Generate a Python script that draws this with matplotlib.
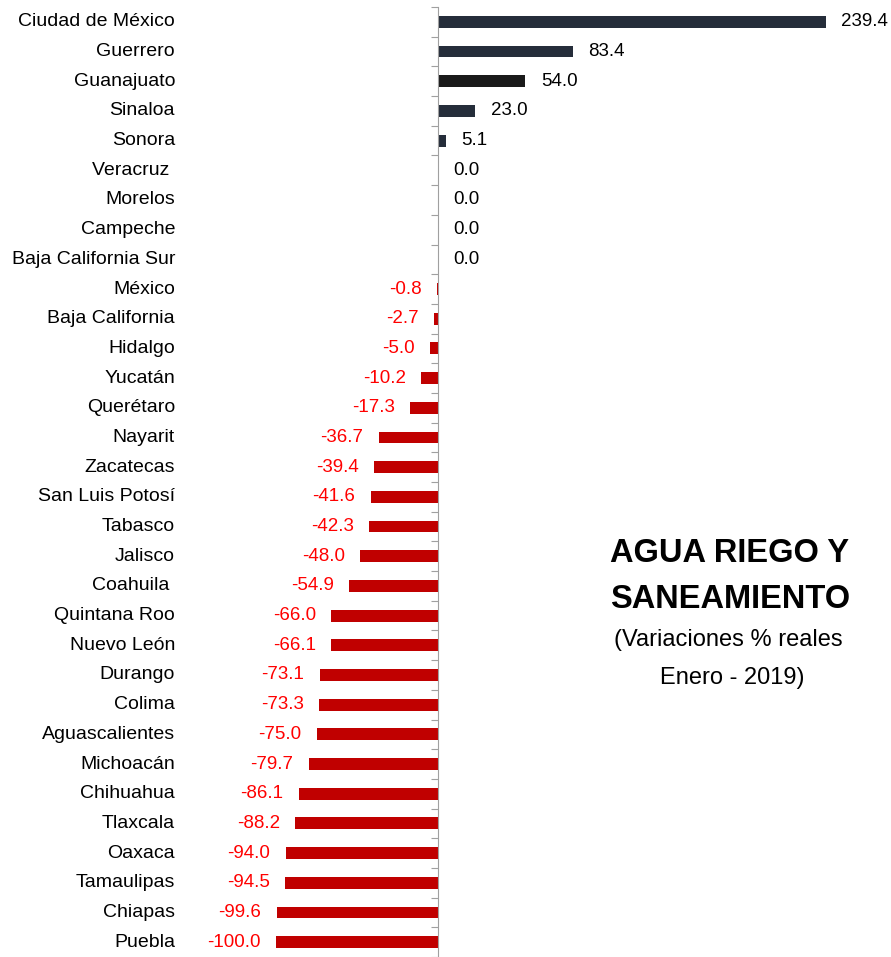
import matplotlib
matplotlib.use("Agg")
import matplotlib.pyplot as plt
import numpy as np

plt.rcParams['font.family'] = ['Liberation Sans', 'DejaVu Sans']

estados = ["Ciudad de México", "Guerrero", "Guanajuato", "Sinaloa", "Sonora",
           "Veracruz ", "Morelos", "Campeche", "Baja California Sur", "México",
           "Baja California", "Hidalgo", "Yucatán", "Querétaro", "Nayarit",
           "Zacatecas", "San Luis Potosí", "Tabasco", "Jalisco", "Coahuila ",
           "Quintana Roo", "Nuevo León", "Durango", "Colima", "Aguascalientes",
           "Michoacán", "Chihuahua", "Tlaxcala", "Oaxaca", "Tamaulipas",
           "Chiapas", "Puebla"]
variacion = [239.4, 83.4, 54.0, 23.0, 5.1, 0.0, 0.0, 0.0, 0.0, -0.8,
             -2.7, -5.0, -10.2, -17.3, -36.7, -39.4, -41.6, -42.3, -48.0, -54.9,
             -66.0, -66.1, -73.1, -73.3, -75.0, -79.7, -86.1, -88.2, -94.0, -94.5,
             -99.6, -100.0]

W, H = 891, 957
fig = plt.figure(figsize=(W / 100, H / 100), dpi=100)
ax = fig.add_axes([0, 0, 1, 950 / H])

y = np.arange(len(estados))
colores = []
for e, v in zip(estados, variacion):
    if v < 0:
        colores.append('#c00000')
    elif e == "Guanajuato":
        colores.append('#1a1a1a')
    else:
        colores.append('#252d3a')
ax.barh(y, variacion, height=0.4, color=colores)

ppu = 1.62  # pixels per unit
ax.set_xlim(-438 / ppu, (W - 438) / ppu)
ax.set_ylim((957 - 22) / 29.8, -0.5)

for i, (e, v) in enumerate(zip(estados, variacion)):
    if v < 0:
        ax.annotate(f"{v:.1f}", (v, i), xytext=(-11, 0), textcoords='offset points',
                    ha='right', va='center', color='#ff0000', fontsize=13.5)
    else:
        ax.annotate(f"{v:.1f}", (v, i), xytext=(11, 0), textcoords='offset points',
                    ha='left', va='center', color='black', fontsize=13.5)
    ax.text((175 - 438) / ppu, i, e, ha='right', va='center', fontsize=14)

for s in ['top', 'right', 'bottom']:
    ax.spines[s].set_visible(False)
ax.spines['left'].set_position(('data', 0))
ax.spines['left'].set_color('#a0a0a0')
ax.set_xticks([])
ax.set_yticks(np.arange(len(estados) + 1) - 0.5)
ax.set_yticklabels([])
ax.tick_params(axis='y', length=5, color='#a0a0a0', direction='out')

fig.text(730 / W, 1 - 553 / H, "AGUA RIEGO Y", ha='center', va='center',
         fontsize=23.5, fontweight='bold')
fig.text(730 / W, 1 - 599 / H, "SANEAMIENTO", ha='center', va='center',
         fontsize=23.5, fontweight='bold')
fig.text(728 / W, 1 - 640 / H, "(Variaciones % reales", ha='center', va='center',
         fontsize=17)
fig.text(732 / W, 1 - 678 / H, "Enero - 2019)", ha='center', va='center',
         fontsize=17)

fig.savefig("out.png", dpi=100)
